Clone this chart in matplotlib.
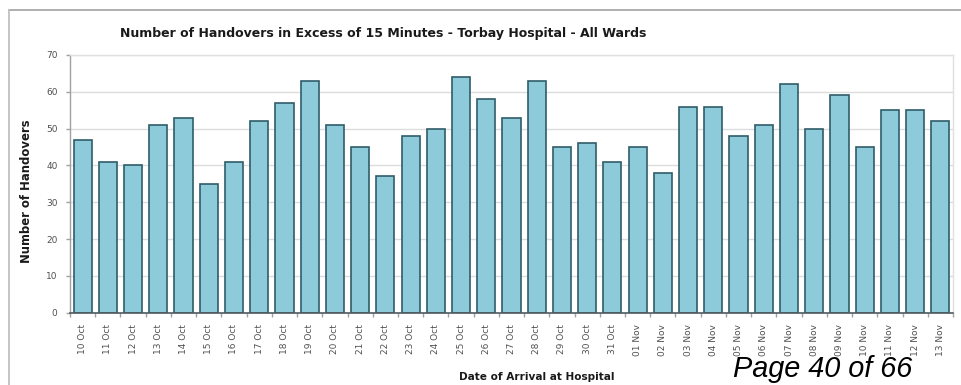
import matplotlib
matplotlib.use("Agg")
import matplotlib.pyplot as plt
from matplotlib.lines import Line2D
import numpy as np

# Daily counts of ambulance handovers taking longer than 15 minutes
dates = [
    "10 Oct", "11 Oct", "12 Oct", "13 Oct", "14 Oct", "15 Oct", "16 Oct",
    "17 Oct", "18 Oct", "19 Oct", "20 Oct", "21 Oct", "22 Oct", "23 Oct",
    "24 Oct", "25 Oct", "26 Oct", "27 Oct", "28 Oct", "29 Oct", "30 Oct",
    "31 Oct", "01 Nov", "02 Nov", "03 Nov", "04 Nov", "05 Nov", "06 Nov",
    "07 Nov", "08 Nov", "09 Nov", "10 Nov", "11 Nov", "12 Nov", "13 Nov",
]
handovers = [
    47, 41, 40, 51, 53, 35, 41, 52, 57, 63, 51, 45, 37, 48, 50, 64, 58, 53,
    63, 45, 46, 41, 45, 38, 56, 56, 48, 51, 62, 50, 59, 45, 55, 55, 52,
]
y_ticks = [0, 10, 20, 30, 40, 50, 60, 70]

title_text = "Number of Handovers in Excess of 15 Minutes - Torbay Hospital - All Wards"
y_title = "Number of Handovers"
x_title = "Date of Arrival at Hospital"
page_text = "Page 40 of 66"

W, H, DPI = 961, 385, 100
fig = plt.figure(figsize=(W / DPI, H / DPI), dpi=DPI)
fig.patch.set_facecolor("white")


def fx(px):
    return px / W


def fy(py):
    return 1 - py / H


ax = fig.add_axes([fx(70), fy(312.7), fx(953) - fx(70), fy(55) - fy(312.7)])

x = np.arange(len(dates))
ax.bar(x, handovers, width=0.72, color="#8ecbda", edgecolor="#2f5d69",
       linewidth=1.2, zorder=3)

ax.set_xlim(-0.48, len(dates) - 1 + 0.48)
ax.set_ylim(0, 70)
ax.set_yticks(y_ticks)
ax.set_yticklabels([str(v) for v in y_ticks], fontsize=6.5, color="#505050",
                   family="DejaVu Sans")
ax.yaxis.grid(True, color="#dcdcdc", linewidth=1.0, zorder=0)
ax.tick_params(axis="y", length=3, width=1, color="#a0a0a0", pad=6)

ax.set_xticks(x)
ax.set_xticklabels(dates, rotation=90, fontsize=6.5, color="#505050",
                   family="DejaVu Sans")
ax.tick_params(axis="x", which="major", length=0, pad=8)
ax.set_xticks(np.arange(-0.5, len(dates), 1.0), minor=True)
ax.tick_params(axis="x", which="minor", length=3, width=1, color="#a0a0a0")

for side in ("top", "right"):
    ax.spines[side].set_color("#e0e0e0")
    ax.spines[side].set_linewidth(1.0)
ax.spines["left"].set_color("#a0a0a0")
ax.spines["left"].set_linewidth(1.0)
ax.spines["bottom"].set_color("#505a60")
ax.spines["bottom"].set_linewidth(1.2)
ax.spines["bottom"].set_zorder(4)

# chart frame
fig.add_artist(Line2D([fx(9), 1.0], [fy(10), fy(10)], transform=fig.transFigure,
                      color="#a8a8a8", linewidth=1.3))
fig.add_artist(Line2D([fx(9), fx(9)], [fy(10), 0.0], transform=fig.transFigure,
                      color="#c0c0c0", linewidth=1.3))

fig.text(fx(383), fy(33), title_text, ha="center", va="center",
         fontsize=9, fontweight="bold", family="Liberation Sans Narrow",
         color="#1a1a1a")
fig.text(fx(27), fy(191), y_title, ha="center", va="center", rotation=90,
         fontsize=8.4, fontweight="bold", family="DejaVu Sans", color="#1a1a1a")
fig.text(fx(537), fy(377), x_title, ha="center", va="center",
         fontsize=7.6, fontweight="bold", family="DejaVu Sans", color="#1a1a1a")
fig.text(fx(733), fy(377), page_text, ha="left", va="baseline",
         fontsize=20.8, style="italic", family="Liberation Sans", color="black")

fig.savefig("out.png", dpi=DPI, facecolor="white")
